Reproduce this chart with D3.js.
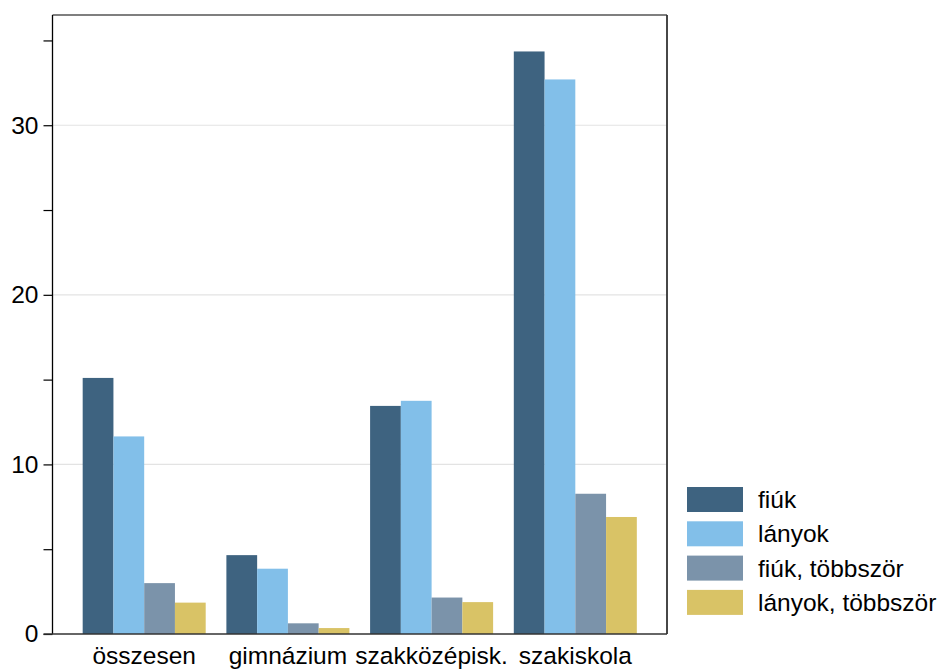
<!DOCTYPE html>
<html>
<head>
<meta charset="utf-8">
<script src="https://cdn.jsdelivr.net/npm/d3@7"></script>
<style>
  html, body { margin: 0; padding: 0; background: #fff; }
  svg { display: block; font-family: "Liberation Sans", Arial, sans-serif; }
</style>
</head>
<body>
<svg id="chart" width="943" height="671"></svg>
<script>
const categories = ["összesen", "gimnázium", "szakközépisk.", "szakiskola"];
const seriesNames = ["fiúk", "lányok", "fiúk, többször", "lányok, többször"];
const fiuk = [15.1, 4.65, 13.45, 34.35];
const lanyok = [11.65, 3.85, 13.75, 32.7];
const fiukTobbszor = [3.0, 0.63, 2.15, 8.27];
const lanyokTobbszor = [1.85, 0.35, 1.88, 6.9];
const colors = ["#3e6380", "#82bfe9", "#7b93aa", "#d9c366"];
const majorTicks = [0, 10, 20, 30];
const minorTicks = [5, 15, 25, 35];

const series = [fiuk, lanyok, fiukTobbszor, lanyokTobbszor];

const svg = d3.select("#chart");
const pLeft = 52.5, pRight = 667, pTop = 15, pBottom = 634;
const fs = 24.5;

const x = d3.scaleBand().domain(categories).range([pLeft, pRight])
  .paddingInner(0.144).paddingOuter(0.21);
const xs = d3.scaleBand().domain(d3.range(series.length)).range([0, x.bandwidth()]);
const y = d3.scaleLinear().domain([0, 36.5]).range([pBottom, pTop]);

// gridlines
svg.append("g").selectAll("line").data(majorTicks.filter(d => d > 0)).join("line")
  .attr("x1", pLeft).attr("x2", pRight)
  .attr("y1", d => y(d)).attr("y2", d => y(d))
  .attr("stroke", "#e3e3e3").attr("stroke-width", 1.2);

// bars
series.forEach((vals, si) => {
  svg.append("g").selectAll("rect").data(vals).join("rect")
    .attr("x", (d, i) => x(categories[i]) + xs(si))
    .attr("y", d => y(d))
    .attr("width", xs.bandwidth())
    .attr("height", d => y(0) - y(d))
    .attr("fill", colors[si]);
});

// frame top & right
svg.append("line").attr("x1", pLeft).attr("x2", pRight).attr("y1", pTop).attr("y2", pTop)
  .attr("stroke", "#000").attr("stroke-width", 1.2);
svg.append("line").attr("x1", pRight).attr("x2", pRight).attr("y1", pTop).attr("y2", pBottom)
  .attr("stroke", "#333").attr("stroke-width", 1.8);

// y axis
const yAxis = d3.axisLeft(y).tickValues(majorTicks).tickSize(9).tickPadding(5).tickFormat(d3.format("d"));
const yg = svg.append("g").attr("transform", `translate(${pLeft},0)`).call(yAxis);
yg.select(".domain").attr("d", `M0,${pTop}V${pBottom}`).attr("stroke", "#000").attr("stroke-width", 1.3);
yg.selectAll(".tick line").attr("stroke", "#000").attr("stroke-width", 1.2);
yg.selectAll(".tick text").attr("font-size", fs).attr("fill", "#000")
  .attr("font-family", "Liberation Sans, Arial, sans-serif");
const yMinor = d3.axisLeft(y).tickValues(minorTicks).tickSize(9).tickFormat("");
const ym = svg.append("g").attr("transform", `translate(${pLeft},0)`).call(yMinor);
ym.select(".domain").remove();
ym.selectAll(".tick line").attr("stroke", "#000").attr("stroke-width", 1.2);

// x axis
const xAxis = d3.axisBottom(x).tickSize(0).tickPadding(13);
const xg = svg.append("g").attr("transform", `translate(0,${pBottom})`).call(xAxis);
xg.select(".domain").attr("d", `M${pLeft - 9},0H${pRight}`).attr("stroke", "#333").attr("stroke-width", 1.5);
xg.selectAll(".tick text").attr("font-size", fs).attr("fill", "#000")
  .attr("font-family", "Liberation Sans, Arial, sans-serif");

// legend
const lg = svg.append("g").attr("transform", "translate(687,487)");
seriesNames.forEach((name, i) => {
  const row = lg.append("g").attr("transform", `translate(0,${i * 34.3})`);
  row.append("rect").attr("width", 56).attr("height", 25).attr("fill", colors[i]);
  row.append("text").attr("x", 71).attr("y", 12.5).attr("dy", "0.35em")
    .attr("font-size", fs).attr("fill", "#000").text(name);
});
</script>
</body>
</html>
